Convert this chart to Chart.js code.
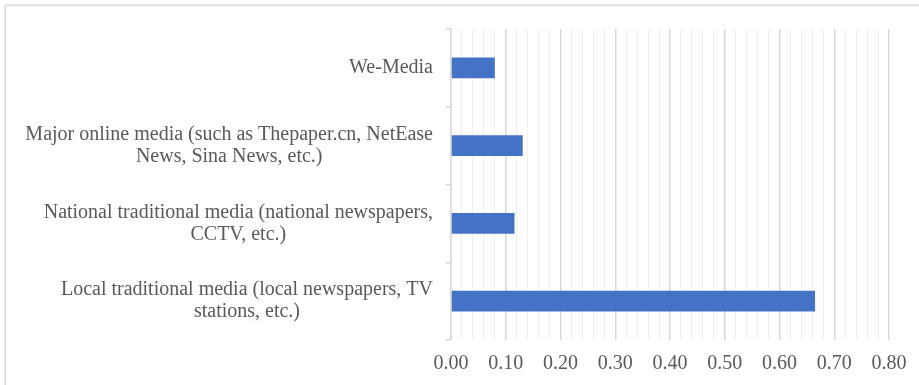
<!DOCTYPE html>
<html>
<head>
<meta charset="utf-8">
<script src="https://cdn.jsdelivr.net/npm/chart.js@4"></script>
<style>
  html, body { margin: 0; padding: 0; background: #ffffff; }
  #wrap { position: relative; width: 919px; height: 385px; }
</style>
</head>
<body>
<div id="wrap"><canvas id="c" width="919" height="385"></canvas></div>
<script>
// ---- data ----
const categories = [
  ["We-Media"],
  ["Major online media (such as Thepaper.cn, NetEase", "News, Sina News, etc.)"],
  ["National traditional media (national newspapers,", "CCTV, etc.)"],
  ["Local traditional media (local newspapers, TV", "stations, etc.)"]
];
const values = [0.08, 0.131, 0.116, 0.665];
const xMin = 0, xMax = 0.8, majorStep = 0.1, minorStep = 0.02;

const FONT = "'Liberation Serif', 'Times New Roman', serif";
const TEXT = '#595959';
const GRID_MAJOR = '#d9d9d9';
const GRID_MINOR = '#f0f0f0';

const isMajor = v => Math.abs(v / majorStep - Math.round(v / majorStep)) < 1e-6;

const frame = {
  id: 'frame',
  beforeDraw(chart) {
    const ctx = chart.ctx;
    ctx.save();
    ctx.fillStyle = '#ffffff';
    ctx.fillRect(0, 0, chart.width, chart.height);
    ctx.fillStyle = '#d9d9d9';
    ctx.fillRect(5, 4.5, chart.width, 1.6);
    ctx.fillRect(4.5, 5, 1.6, chart.height);
    ctx.restore();
  }
};

const catLabels = {
  id: 'catLabels',
  afterDraw(chart) {
    const ctx = chart.ctx;
    const ys = chart.scales.y;
    const right = ys.right - 18;
    const lineH = 22;
    ctx.save();
    ctx.font = '20px ' + FONT;
    ctx.fillStyle = TEXT;
    ctx.textAlign = 'center';
    ctx.textBaseline = 'middle';
    categories.forEach((lines, i) => {
      const cy = ys.getPixelForValue(i);
      const w = Math.max(...lines.map(l => ctx.measureText(l).width));
      const cx = right - w / 2;
      const y0 = cy - (lines.length - 1) * lineH / 2;
      lines.forEach((l, j) => ctx.fillText(l, cx, y0 + j * lineH));
    });
    ctx.restore();
  }
};

new Chart(document.getElementById('c'), {
  type: 'bar',
  data: {
    labels: categories,
    datasets: [{
      data: values,
      backgroundColor: '#4472c4',
      borderWidth: 0,
      categoryPercentage: 1,
      barPercentage: 0.27
    }]
  },
  options: {
    indexAxis: 'y',
    responsive: false,
    animation: false,
    devicePixelRatio: 1,
    layout: { padding: { top: 29, right: 30, bottom: 0, left: 0 } },
    plugins: { legend: { display: false }, tooltip: { enabled: false } },
    scales: {
      x: {
        type: 'linear',
        min: xMin, max: xMax,
        border: { display: false },
        grid: {
          drawTicks: false,
          color: ctx => isMajor(ctx.tick.value) ? GRID_MAJOR : GRID_MINOR,
          lineWidth: ctx => isMajor(ctx.tick.value) ? 1.5 : 1
        },
        ticks: {
          stepSize: minorStep,
          autoSkip: false,
          maxRotation: 0,
          padding: 12,
          color: TEXT,
          font: { family: FONT, size: 20 },
          callback: v => isMajor(v) ? Number(v).toFixed(2) : ''
        },
        afterFit(scale) { scale.height = 45; }
      },
      y: {
        type: 'category',
        offset: true,
        border: { display: true, color: '#d9d9d9', width: 1.5 },
        grid: {
          offset: true,
          drawOnChartArea: false,
          drawTicks: true,
          tickLength: 5,
          color: '#d9d9d9',
          lineWidth: 1.5
        },
        ticks: { display: false },
        afterFit(scale) { scale.width = 451; }
      }
    }
  },
  plugins: [frame, catLabels]
});
</script>
</body>
</html>
